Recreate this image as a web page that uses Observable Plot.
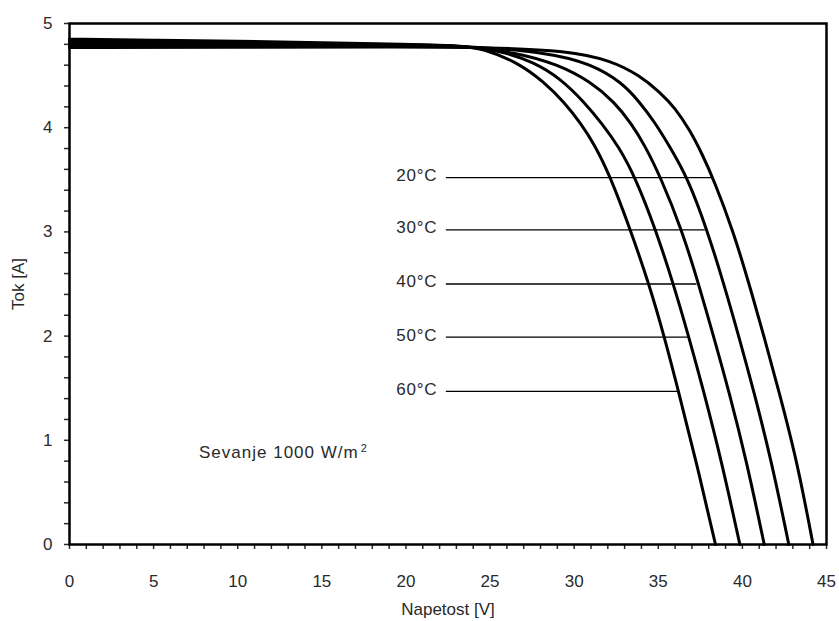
<!DOCTYPE html>
<html>
<head>
<meta charset="utf-8">
<script src="https://cdn.jsdelivr.net/npm/d3@7"></script>
<script src="https://cdn.jsdelivr.net/npm/@observablehq/plot@0.6"></script>
<style>
  body { margin: 0; background: #fff; }
  #chart svg { display: block; }
</style>
</head>
<body>
<div id="chart"></div>
<script>
// Curves: [voltage V, current A]
const c20 = [[0,4.77],[10,4.772],[20,4.775],[25,4.77],[29.6,4.74],[32.2,4.645],[33.9,4.5],[35.1,4.34],[36.0,4.19],[36.9,3.97],[37.6,3.75],[38.3,3.50],[39.45,3.01],[40.4,2.5],[41.3,1.99],[42.17,1.47],[43.25,0.80],[44.2,0]];
const c30 = [[0,4.79],[10,4.786],[20,4.785],[23.4,4.785],[28.6,4.72],[31.0,4.61],[32.8,4.44],[33.9,4.245],[34.8,4.05],[35.6,3.84],[36.75,3.52],[37.9,3.02],[38.9,2.5],[39.8,1.99],[40.68,1.47],[41.73,0.80],[42.76,0]];
const c40 = [[0,4.81],[10,4.80],[20,4.79],[23.4,4.787],[26.6,4.72],[29.0,4.61],[31.0,4.44],[32.4,4.245],[33.4,4.04],[34.2,3.83],[35.15,3.52],[36.4,3.02],[37.4,2.5],[38.3,1.99],[39.2,1.47],[40.25,0.80],[41.3,0]];
const c50 = [[0,4.83],[10,4.815],[20,4.797],[23.4,4.788],[25.6,4.74],[27.6,4.63],[29.2,4.47],[30.6,4.245],[31.7,4.03],[32.6,3.83],[33.65,3.52],[34.85,3.02],[35.9,2.5],[36.82,1.99],[37.7,1.47],[38.76,0.80],[39.85,0]];
const c60 = [[0,4.85],[5,4.84],[10,4.83],[15,4.815],[20,4.80],[23.4,4.785],[24.6,4.757],[26.6,4.63],[28.2,4.44],[29.4,4.245],[30.4,4.04],[31.2,3.84],[32.1,3.55],[33.3,3.04],[34.45,2.5],[35.35,2.0],[36.2,1.47],[37.25,0.80],[38.4,0]];

const temps = ["20°C","30°C","40°C","50°C","60°C"];
const curves = [c20, c30, c40, c50, c60];
// label leader lines: current level, start and end voltage
const labelCurrent = [3.52, 3.02, 2.50, 1.99, 1.47];
const labelStartV = [22.4, 22.4, 22.4, 22.4, 22.4];
const labelEndV = [38.2, 37.8, 37.3, 36.8, 36.2];

const xTicks = d3.range(0, 46, 1);
const xLabels = [0, 5, 10, 15, 20, 25, 30, 35, 40, 45];
const yTicks = d3.range(0, 5.0001, 0.2).map(v => +v.toFixed(1));
const yLabels = [0, 1, 2, 3, 4, 5];
const note = { x: 7.7, y: 0.88, text: "Sevanje 1000 W/m", sup: "2" };

const lineData = curves.flatMap((c, i) => c.map(([v, a]) => ({ t: temps[i], v, a })));
const labelData = temps.map((t, i) => ({ t, y: labelCurrent[i], x1: labelStartV[i], x2: labelEndV[i] }));

const textColor = "#2a2a2a";

const chart = Plot.plot({
  width: 839,
  height: 621,
  marginLeft: 69,
  marginRight: 13,
  marginTop: 23,
  marginBottom: 77,
  style: { fontFamily: "'Liberation Sans', Arial, sans-serif", fontSize: "17px", color: textColor, background: "#fff" },
  x: { domain: [0, 45] },
  y: { domain: [0, 5] },
  marks: [
    Plot.axisX({
      ticks: xTicks,
      tickFormat: d => xLabels.includes(d) ? String(d) : "",
      tickSize: 5,
      tickPadding: 25,
      strokeWidth: 1.5,
      label: "Napetost [V]",
      labelAnchor: "center",
      labelArrow: "none",
      labelOffset: 70,
      fontSize: 17
    }),
    Plot.axisY({
      ticks: yTicks,
      tickFormat: d => yLabels.includes(d) ? String(d) : "",
      tickSize: 5,
      tickPadding: 12,
      strokeWidth: 1.5,
      label: "Tok [A]",
      labelAnchor: "center",
      labelArrow: "none",
      labelOffset: 58,
      fontSize: 17
    }),
    Plot.ruleY(labelData, { y: "y", x1: "x1", x2: "x2", stroke: "#000", strokeWidth: 1.3 }),
    Plot.text(labelData, { x: "x1", y: "y", text: "t", textAnchor: "end", dx: -9, dy: -2, fontSize: 17, fill: textColor }),
    Plot.line(lineData, { x: "v", y: "a", z: "t", stroke: "#000", strokeWidth: 3, curve: "basis" }),
    Plot.text([note], { x: "x", y: "y", text: "text", textAnchor: "start", fontSize: 17, fill: textColor }),
    Plot.frame({ stroke: "#000", strokeWidth: 2.5 })
  ]
});

document.getElementById("chart").appendChild(chart);
// superscript for the note, placed right after the note text
chart.querySelectorAll("text").forEach(t => {
  if (t.textContent === note.text) {
    t.setAttribute("letter-spacing", "1");
    const ts = document.createElementNS("http://www.w3.org/2000/svg", "tspan");
    ts.textContent = note.sup;
    ts.setAttribute("font-size", "11");
    ts.setAttribute("dy", "-6");
    ts.setAttribute("dx", "2");
    t.appendChild(ts);
  }
  if (temps.includes(t.textContent)) t.setAttribute("letter-spacing", "0.8");
});
</script>
</body>
</html>
